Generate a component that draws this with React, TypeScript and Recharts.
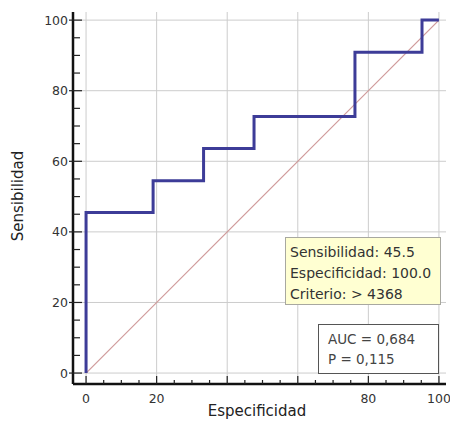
import { Line, LineChart, ReferenceLine, XAxis, YAxis } from "recharts";

// ROC curve: 100 - especificidad vs sensibilidad
const fpr = [0, 0, 19, 33.3, 47.6, 76.2, 95.2, 100];
const sens = [0, 45.5, 54.5, 63.6, 72.7, 90.9, 100, 100];
const diagX = [0, 100];
const gridValues = [0, 20, 40, 60, 80, 100];
const axisTicks = [0, 5, 10, 15, 20, 25, 30, 35, 40, 45, 50, 55, 60, 65, 70, 75, 80, 85, 90, 95, 100];
// 40 and 60 are hidden under the axis title in the original
const xTickLabels = [0, 20, 80, 100];
const yTickLabels = [0, 20, 40, 60, 80, 100];
const infoLines = ["Sensibilidad: 45.5", "Especificidad: 100.0", "Criterio: > 4368"];
const statLines = ["AUC = 0,684", "P = 0,115"];

const rocData = fpr.map((x, i) => ({ x, y: sens[i] }));
const diagData = diagX.map((x) => ({ x, y: x }));

const FONT = "'DejaVu Sans', Verdana, sans-serif";
const X_MARGIN = 8;
const Y_MARGIN = 5;

function XTick(props: any) {
  const { x, y, payload } = props;
  const axisY = y - X_MARGIN;
  const major = payload.value % 20 === 0;
  return (
    <g>
      <line x1={x} x2={x} y1={axisY} y2={axisY - (major ? 8 : 4)} stroke="#222" strokeWidth={1.2} />
      {xTickLabels.includes(payload.value) && (
        <text x={x} y={axisY + 14} textAnchor="middle" dominantBaseline="central" fontSize={12.5} fontFamily={FONT} fill="#333">
          {payload.value}
        </text>
      )}
    </g>
  );
}

function YTick(props: any) {
  const { x, y, payload } = props;
  const axisX = x + Y_MARGIN;
  const major = payload.value % 20 === 0;
  return (
    <g>
      <line x1={major ? axisX - 4 : axisX} x2={axisX + (major ? 9 : 7)} y1={y} y2={y} stroke="#222" strokeWidth={1.2} />
      {yTickLabels.includes(payload.value) && (
        <text x={axisX - 5} y={y} textAnchor="end" dominantBaseline="central" fontSize={12.5} fontFamily={FONT} fill="#333">
          {payload.value}
        </text>
      )}
    </g>
  );
}

export default function App() {
  return (
    <div style={{ position: "relative", width: 450, height: 422, background: "#fff" }}>
      <style>{"body{margin:0}"}</style>
      <LineChart width={450} height={422} margin={{ top: 12, right: 4, bottom: 8, left: 13 }}>
        <XAxis
          type="number"
          dataKey="x"
          domain={[-3.7, 102]}
          ticks={axisTicks}
          interval={0}
          allowDataOverflow
          tickSize={0}
          tickMargin={X_MARGIN}
          height={30}
          axisLine={{ stroke: "#111", strokeWidth: 2.5 }}
          tick={<XTick />}
        />
        <YAxis
          type="number"
          dataKey="y"
          domain={[-3.1, 102.3]}
          ticks={axisTicks}
          interval={0}
          allowDataOverflow
          tickSize={0}
          tickMargin={Y_MARGIN}
          width={60}
          axisLine={{ stroke: "#111", strokeWidth: 2.5 }}
          tick={<YTick />}
        />
        {gridValues.map((v) => (
          <ReferenceLine key={"gx" + v} x={v} stroke="#cccccc" strokeWidth={1} />
        ))}
        {gridValues.map((v) => (
          <ReferenceLine key={"gy" + v} y={v} stroke="#cccccc" strokeWidth={1} />
        ))}
        <Line data={diagData} dataKey="y" type="linear" stroke="#cf9a9a" strokeWidth={1.2} dot={false} isAnimationActive={false} />
        <Line data={rocData} dataKey="y" type="stepAfter" stroke="#3d3c98" strokeWidth={3} dot={false} isAnimationActive={false} />
      </LineChart>

      <div
        style={{
          position: "absolute",
          left: 257,
          top: 411,
          transform: "translate(-50%, -50%)",
          fontFamily: FONT,
          fontSize: 15,
          color: "#222",
          whiteSpace: "nowrap",
        }}
      >
        Especificidad
      </div>
      <div
        style={{
          position: "absolute",
          left: 18,
          top: 196,
          transform: "translate(-50%, -50%) rotate(-90deg)",
          fontFamily: FONT,
          fontSize: 15,
          color: "#222",
          whiteSpace: "nowrap",
        }}
      >
        Sensibilidad
      </div>

      <div
        style={{
          position: "absolute",
          left: 285,
          top: 237,
          width: 156,
          height: 68,
          boxSizing: "border-box",
          background: "#ffffd2",
          border: "1px solid #a8a8a0",
          padding: "4px 0 0 4px",
          fontFamily: FONT,
          fontSize: 14,
          lineHeight: "21px",
          color: "#333",
          whiteSpace: "nowrap",
        }}
      >
        {infoLines.map((t) => (
          <div key={t}>{t}</div>
        ))}
      </div>

      <div
        style={{
          position: "absolute",
          left: 318,
          top: 324,
          width: 121,
          height: 50,
          boxSizing: "border-box",
          background: "#fff",
          border: "1.5px solid #555",
          padding: "4px 0 0 9px",
          fontFamily: FONT,
          fontSize: 13.5,
          lineHeight: "20px",
          color: "#444",
          whiteSpace: "nowrap",
        }}
      >
        {statLines.map((t) => (
          <div key={t}>{t}</div>
        ))}
      </div>
    </div>
  );
}
